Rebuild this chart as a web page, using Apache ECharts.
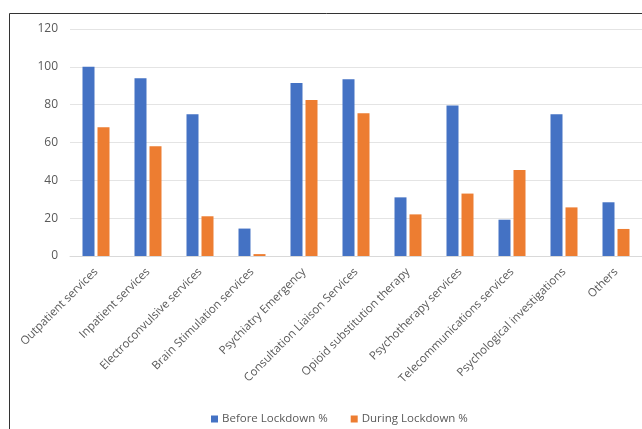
<!DOCTYPE html>
<html><head><meta charset="utf-8">
<script src="https://cdn.jsdelivr.net/npm/echarts@6/dist/echarts.min.js"></script>
<style>html,body{margin:0;padding:0;background:#fff}#c{width:642px;height:429px}</style>
</head><body><div id="c"></div>
<script>
const categories = ["Outpatient services","Inpatient services","Electroconvulsive services","Brain Stimulation services","Psychiatry Emergency","Consultation Liaison Services","Opioid substitution therapy","Psychotherapy services","Telecommunications services","Psychological investigations","Others"];
const beforeLockdown = [100, 94, 75, 14.5, 91.5, 93.5, 31, 79.5, 19.2, 75, 28.4];
const duringLockdown = [68, 58, 21, 1, 82.5, 75.5, 22, 33, 45.5, 25.7, 14.3];
const yTicks = [0, 20, 40, 60, 80, 100, 120];
const seriesNames = ["Before Lockdown %", "During Lockdown %"];

const chart = echarts.init(document.getElementById('c'), null, {renderer: 'canvas'});
const font = "Open Sans";
chart.setOption({
  animation: false,
  textStyle: {fontFamily: font},
  graphic: [{type: 'rect', shape: {x: 9.5, y: 13.5, width: 700, height: 500}, style: {fill: 'none', stroke: '#333', lineWidth: 1}, silent: true}],
  grid: {left: 70, top: 29, width: 574, height: 227, containLabel: false},
  legend: {
    top: 408, left: 206, itemWidth: 7, itemHeight: 7, itemGap: 23,
    icon: 'rect', textStyle: {color: '#595959', fontSize: 11.5, fontFamily: font, padding: [0, 0, 0, -1]},
    data: seriesNames
  },
  xAxis: {
    type: 'category', data: categories,
    axisLine: {lineStyle: {color: '#d9d9d9'}}, axisTick: {show: false},
    axisLabel: {rotate: 45, interval: 0, color: '#595959', fontSize: 11.5, margin: 14, fontFamily: font}
  },
  yAxis: {
    type: 'value', min: yTicks[0], max: yTicks[yTicks.length-1], interval: 20,
    axisLine: {show: false}, axisTick: {show: false},
    splitLine: {lineStyle: {color: '#e4e4e4'}},
    axisLabel: {color: '#595959', fontSize: 12, margin: 12, fontFamily: font}
  },
  series: [
    {name: seriesNames[0], type: 'bar', data: beforeLockdown, itemStyle: {color: '#4472C4'}, barWidth: 12, barGap: '25%'},
    {name: seriesNames[1], type: 'bar', data: duringLockdown, itemStyle: {color: '#ED7D31'}, barWidth: 12, barGap: '25%'}
  ]
});
</script></body></html>
